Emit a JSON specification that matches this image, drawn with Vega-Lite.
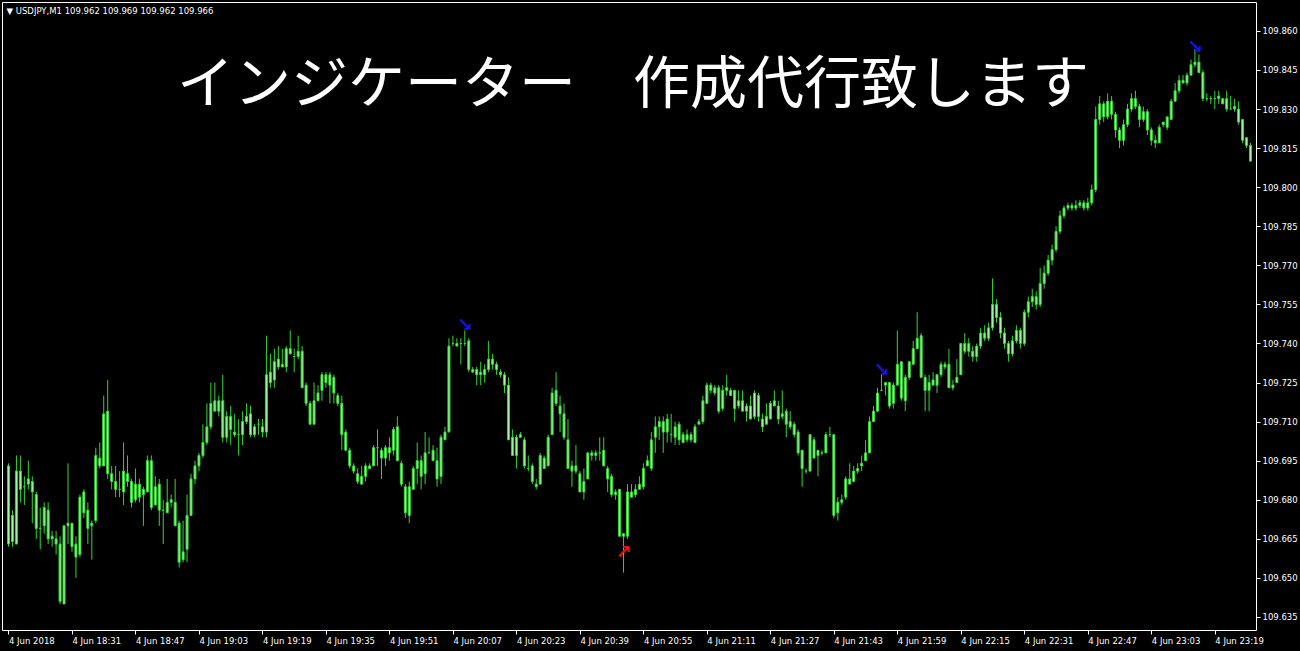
{
  "$schema": "https://vega.github.io/schema/vega-lite/v6.json",
  "width": 1254,
  "height": 628,
  "autosize": {"type": "none"},
  "padding": {"left": 2, "top": 2, "right": 44, "bottom": 21},
  "background": "#000000",
  "config": {"view": {"stroke": "#ffffff", "strokeWidth": 1}, "font": "DejaVu Sans"},
  "title": {
    "text": "インジケーター　作成代行致します",
    "font": "Noto Sans CJK JP",
    "fontSize": 57,
    "fontWeight": "normal",
    "color": "#ffffff",
    "anchor": "middle",
    "frame": "group",
    "orient": "top",
    "offset": 0,
    "baseline": "alphabetic",
    "dx": 4,
    "dy": 158
  },
  "data": {"values": [
    {"t":"2018-06-04T18:15Z","o":109.693,"h":109.694,"l":109.662,"c":109.663},
    {"t":"2018-06-04T18:16Z","o":109.664,"h":109.676,"l":109.662,"c":109.674},
    {"t":"2018-06-04T18:17Z","o":109.663,"h":109.697,"l":109.663,"c":109.691},
    {"t":"2018-06-04T18:18Z","o":109.691,"h":109.697,"l":109.679,"c":109.684},
    {"t":"2018-06-04T18:19Z","o":109.685,"h":109.689,"l":109.678,"c":109.685},
    {"t":"2018-06-04T18:20Z","o":109.686,"h":109.695,"l":109.684,"c":109.688},
    {"t":"2018-06-04T18:21Z","o":109.687,"h":109.689,"l":109.671,"c":109.683},
    {"t":"2018-06-04T18:22Z","o":109.682,"h":109.683,"l":109.665,"c":109.669},
    {"t":"2018-06-04T18:23Z","o":109.669,"h":109.677,"l":109.661,"c":109.669},
    {"t":"2018-06-04T18:24Z","o":109.670,"h":109.679,"l":109.667,"c":109.677},
    {"t":"2018-06-04T18:25Z","o":109.676,"h":109.679,"l":109.663,"c":109.665},
    {"t":"2018-06-04T18:26Z","o":109.666,"h":109.668,"l":109.662,"c":109.665},
    {"t":"2018-06-04T18:27Z","o":109.665,"h":109.668,"l":109.659,"c":109.663},
    {"t":"2018-06-04T18:28Z","o":109.663,"h":109.666,"l":109.640,"c":109.641},
    {"t":"2018-06-04T18:29Z","o":109.640,"h":109.670,"l":109.640,"c":109.670},
    {"t":"2018-06-04T18:30Z","o":109.671,"h":109.694,"l":109.663,"c":109.670},
    {"t":"2018-06-04T18:31Z","o":109.671,"h":109.671,"l":109.660,"c":109.662},
    {"t":"2018-06-04T18:32Z","o":109.663,"h":109.666,"l":109.650,"c":109.658},
    {"t":"2018-06-04T18:33Z","o":109.659,"h":109.682,"l":109.658,"c":109.681},
    {"t":"2018-06-04T18:34Z","o":109.683,"h":109.684,"l":109.673,"c":109.675},
    {"t":"2018-06-04T18:35Z","o":109.676,"h":109.679,"l":109.663,"c":109.669},
    {"t":"2018-06-04T18:36Z","o":109.670,"h":109.672,"l":109.657,"c":109.671},
    {"t":"2018-06-04T18:37Z","o":109.672,"h":109.700,"l":109.671,"c":109.697},
    {"t":"2018-06-04T18:38Z","o":109.696,"h":109.702,"l":109.692,"c":109.693},
    {"t":"2018-06-04T18:39Z","o":109.693,"h":109.720,"l":109.693,"c":109.713},
    {"t":"2018-06-04T18:40Z","o":109.714,"h":109.726,"l":109.688,"c":109.690},
    {"t":"2018-06-04T18:41Z","o":109.690,"h":109.693,"l":109.684,"c":109.687},
    {"t":"2018-06-04T18:42Z","o":109.687,"h":109.693,"l":109.681,"c":109.684},
    {"t":"2018-06-04T18:43Z","o":109.684,"h":109.691,"l":109.681,"c":109.684},
    {"t":"2018-06-04T18:44Z","o":109.683,"h":109.702,"l":109.678,"c":109.691},
    {"t":"2018-06-04T18:45Z","o":109.690,"h":109.697,"l":109.685,"c":109.687},
    {"t":"2018-06-04T18:46Z","o":109.687,"h":109.688,"l":109.677,"c":109.679},
    {"t":"2018-06-04T18:47Z","o":109.680,"h":109.692,"l":109.679,"c":109.686},
    {"t":"2018-06-04T18:48Z","o":109.686,"h":109.688,"l":109.679,"c":109.681},
    {"t":"2018-06-04T18:49Z","o":109.682,"h":109.685,"l":109.670,"c":109.684},
    {"t":"2018-06-04T18:50Z","o":109.683,"h":109.697,"l":109.683,"c":109.695},
    {"t":"2018-06-04T18:51Z","o":109.695,"h":109.697,"l":109.676,"c":109.677},
    {"t":"2018-06-04T18:52Z","o":109.678,"h":109.689,"l":109.678,"c":109.685},
    {"t":"2018-06-04T18:53Z","o":109.686,"h":109.688,"l":109.670,"c":109.676},
    {"t":"2018-06-04T18:54Z","o":109.676,"h":109.680,"l":109.663,"c":109.676},
    {"t":"2018-06-04T18:55Z","o":109.675,"h":109.688,"l":109.675,"c":109.679},
    {"t":"2018-06-04T18:56Z","o":109.680,"h":109.682,"l":109.677,"c":109.679},
    {"t":"2018-06-04T18:57Z","o":109.679,"h":109.688,"l":109.670,"c":109.670},
    {"t":"2018-06-04T18:58Z","o":109.671,"h":109.672,"l":109.654,"c":109.656},
    {"t":"2018-06-04T18:59Z","o":109.657,"h":109.672,"l":109.656,"c":109.660},
    {"t":"2018-06-04T19:00Z","o":109.661,"h":109.682,"l":109.656,"c":109.674},
    {"t":"2018-06-04T19:01Z","o":109.674,"h":109.690,"l":109.674,"c":109.688},
    {"t":"2018-06-04T19:02Z","o":109.688,"h":109.695,"l":109.686,"c":109.693},
    {"t":"2018-06-04T19:03Z","o":109.693,"h":109.698,"l":109.691,"c":109.697},
    {"t":"2018-06-04T19:04Z","o":109.697,"h":109.709,"l":109.696,"c":109.702},
    {"t":"2018-06-04T19:05Z","o":109.702,"h":109.717,"l":109.701,"c":109.708},
    {"t":"2018-06-04T19:06Z","o":109.708,"h":109.725,"l":109.707,"c":109.717},
    {"t":"2018-06-04T19:07Z","o":109.714,"h":109.725,"l":109.714,"c":109.718},
    {"t":"2018-06-04T19:08Z","o":109.718,"h":109.720,"l":109.712,"c":109.714},
    {"t":"2018-06-04T19:09Z","o":109.718,"h":109.728,"l":109.702,"c":109.704},
    {"t":"2018-06-04T19:10Z","o":109.704,"h":109.714,"l":109.702,"c":109.712},
    {"t":"2018-06-04T19:11Z","o":109.712,"h":109.716,"l":109.701,"c":109.707},
    {"t":"2018-06-04T19:12Z","o":109.706,"h":109.713,"l":109.704,"c":109.705},
    {"t":"2018-06-04T19:13Z","o":109.705,"h":109.711,"l":109.697,"c":109.705},
    {"t":"2018-06-04T19:14Z","o":109.705,"h":109.714,"l":109.701,"c":109.710},
    {"t":"2018-06-04T19:15Z","o":109.710,"h":109.717,"l":109.709,"c":109.712},
    {"t":"2018-06-04T19:16Z","o":109.713,"h":109.716,"l":109.704,"c":109.705},
    {"t":"2018-06-04T19:17Z","o":109.705,"h":109.709,"l":109.704,"c":109.708},
    {"t":"2018-06-04T19:18Z","o":109.709,"h":109.711,"l":109.705,"c":109.709},
    {"t":"2018-06-04T19:19Z","o":109.708,"h":109.711,"l":109.704,"c":109.706},
    {"t":"2018-06-04T19:20Z","o":109.706,"h":109.743,"l":109.704,"c":109.728},
    {"t":"2018-06-04T19:21Z","o":109.729,"h":109.736,"l":109.723,"c":109.725},
    {"t":"2018-06-04T19:22Z","o":109.726,"h":109.738,"l":109.723,"c":109.733},
    {"t":"2018-06-04T19:23Z","o":109.734,"h":109.739,"l":109.730,"c":109.731},
    {"t":"2018-06-04T19:24Z","o":109.731,"h":109.738,"l":109.731,"c":109.732},
    {"t":"2018-06-04T19:25Z","o":109.731,"h":109.739,"l":109.729,"c":109.738},
    {"t":"2018-06-04T19:26Z","o":109.738,"h":109.745,"l":109.736,"c":109.736},
    {"t":"2018-06-04T19:27Z","o":109.735,"h":109.738,"l":109.729,"c":109.735},
    {"t":"2018-06-04T19:28Z","o":109.735,"h":109.743,"l":109.734,"c":109.737},
    {"t":"2018-06-04T19:29Z","o":109.737,"h":109.739,"l":109.723,"c":109.723},
    {"t":"2018-06-04T19:30Z","o":109.724,"h":109.725,"l":109.716,"c":109.717},
    {"t":"2018-06-04T19:31Z","o":109.717,"h":109.718,"l":109.709,"c":109.709},
    {"t":"2018-06-04T19:32Z","o":109.709,"h":109.725,"l":109.709,"c":109.718},
    {"t":"2018-06-04T19:33Z","o":109.718,"h":109.724,"l":109.718,"c":109.721},
    {"t":"2018-06-04T19:34Z","o":109.722,"h":109.729,"l":109.718,"c":109.728},
    {"t":"2018-06-04T19:35Z","o":109.728,"h":109.729,"l":109.723,"c":109.725},
    {"t":"2018-06-04T19:36Z","o":109.728,"h":109.729,"l":109.717,"c":109.724},
    {"t":"2018-06-04T19:37Z","o":109.727,"h":109.728,"l":109.717,"c":109.721},
    {"t":"2018-06-04T19:38Z","o":109.720,"h":109.721,"l":109.716,"c":109.717},
    {"t":"2018-06-04T19:39Z","o":109.717,"h":109.720,"l":109.699,"c":109.705},
    {"t":"2018-06-04T19:40Z","o":109.706,"h":109.707,"l":109.699,"c":109.699},
    {"t":"2018-06-04T19:41Z","o":109.699,"h":109.700,"l":109.692,"c":109.693},
    {"t":"2018-06-04T19:42Z","o":109.693,"h":109.694,"l":109.690,"c":109.691},
    {"t":"2018-06-04T19:43Z","o":109.690,"h":109.692,"l":109.686,"c":109.687},
    {"t":"2018-06-04T19:44Z","o":109.686,"h":109.693,"l":109.686,"c":109.689},
    {"t":"2018-06-04T19:45Z","o":109.689,"h":109.694,"l":109.687,"c":109.693},
    {"t":"2018-06-04T19:46Z","o":109.692,"h":109.694,"l":109.692,"c":109.693},
    {"t":"2018-06-04T19:47Z","o":109.693,"h":109.701,"l":109.693,"c":109.700},
    {"t":"2018-06-04T19:48Z","o":109.700,"h":109.707,"l":109.693,"c":109.700},
    {"t":"2018-06-04T19:49Z","o":109.699,"h":109.700,"l":109.688,"c":109.696},
    {"t":"2018-06-04T19:50Z","o":109.696,"h":109.701,"l":109.693,"c":109.700},
    {"t":"2018-06-04T19:51Z","o":109.700,"h":109.704,"l":109.695,"c":109.698},
    {"t":"2018-06-04T19:52Z","o":109.699,"h":109.708,"l":109.697,"c":109.707},
    {"t":"2018-06-04T19:53Z","o":109.708,"h":109.712,"l":109.695,"c":109.695},
    {"t":"2018-06-04T19:54Z","o":109.694,"h":109.695,"l":109.685,"c":109.686},
    {"t":"2018-06-04T19:55Z","o":109.685,"h":109.686,"l":109.673,"c":109.675},
    {"t":"2018-06-04T19:56Z","o":109.674,"h":109.687,"l":109.671,"c":109.685},
    {"t":"2018-06-04T19:57Z","o":109.684,"h":109.693,"l":109.684,"c":109.692},
    {"t":"2018-06-04T19:58Z","o":109.692,"h":109.702,"l":109.686,"c":109.695},
    {"t":"2018-06-04T19:59Z","o":109.695,"h":109.697,"l":109.684,"c":109.689},
    {"t":"2018-06-04T20:00Z","o":109.690,"h":109.706,"l":109.686,"c":109.698},
    {"t":"2018-06-04T20:01Z","o":109.698,"h":109.704,"l":109.698,"c":109.698},
    {"t":"2018-06-04T20:02Z","o":109.699,"h":109.701,"l":109.695,"c":109.695},
    {"t":"2018-06-04T20:03Z","o":109.695,"h":109.700,"l":109.685,"c":109.688},
    {"t":"2018-06-04T20:04Z","o":109.689,"h":109.705,"l":109.686,"c":109.704},
    {"t":"2018-06-04T20:05Z","o":109.703,"h":109.708,"l":109.703,"c":109.706},
    {"t":"2018-06-04T20:06Z","o":109.706,"h":109.742,"l":109.706,"c":109.739},
    {"t":"2018-06-04T20:07Z","o":109.740,"h":109.743,"l":109.739,"c":109.740},
    {"t":"2018-06-04T20:08Z","o":109.739,"h":109.742,"l":109.739,"c":109.740},
    {"t":"2018-06-04T20:09Z","o":109.740,"h":109.742,"l":109.732,"c":109.740},
    {"t":"2018-06-04T20:10Z","o":109.740,"h":109.745,"l":109.739,"c":109.740},
    {"t":"2018-06-04T20:11Z","o":109.741,"h":109.742,"l":109.729,"c":109.730},
    {"t":"2018-06-04T20:12Z","o":109.730,"h":109.731,"l":109.729,"c":109.729},
    {"t":"2018-06-04T20:13Z","o":109.730,"h":109.731,"l":109.724,"c":109.728},
    {"t":"2018-06-04T20:14Z","o":109.728,"h":109.733,"l":109.724,"c":109.729},
    {"t":"2018-06-04T20:15Z","o":109.728,"h":109.732,"l":109.725,"c":109.730},
    {"t":"2018-06-04T20:16Z","o":109.730,"h":109.741,"l":109.729,"c":109.734},
    {"t":"2018-06-04T20:17Z","o":109.734,"h":109.736,"l":109.730,"c":109.732},
    {"t":"2018-06-04T20:18Z","o":109.732,"h":109.733,"l":109.728,"c":109.730},
    {"t":"2018-06-04T20:19Z","o":109.729,"h":109.730,"l":109.727,"c":109.728},
    {"t":"2018-06-04T20:20Z","o":109.728,"h":109.729,"l":109.721,"c":109.724},
    {"t":"2018-06-04T20:21Z","o":109.724,"h":109.727,"l":109.703,"c":109.703},
    {"t":"2018-06-04T20:22Z","o":109.704,"h":109.707,"l":109.697,"c":109.697},
    {"t":"2018-06-04T20:23Z","o":109.697,"h":109.705,"l":109.692,"c":109.704},
    {"t":"2018-06-04T20:24Z","o":109.704,"h":109.706,"l":109.704,"c":109.705},
    {"t":"2018-06-04T20:25Z","o":109.703,"h":109.704,"l":109.692,"c":109.693},
    {"t":"2018-06-04T20:26Z","o":109.692,"h":109.697,"l":109.691,"c":109.692},
    {"t":"2018-06-04T20:27Z","o":109.693,"h":109.694,"l":109.686,"c":109.687},
    {"t":"2018-06-04T20:28Z","o":109.686,"h":109.688,"l":109.684,"c":109.685},
    {"t":"2018-06-04T20:29Z","o":109.686,"h":109.698,"l":109.686,"c":109.697},
    {"t":"2018-06-04T20:30Z","o":109.696,"h":109.697,"l":109.692,"c":109.692},
    {"t":"2018-06-04T20:31Z","o":109.693,"h":109.705,"l":109.693,"c":109.704},
    {"t":"2018-06-04T20:32Z","o":109.705,"h":109.723,"l":109.705,"c":109.721},
    {"t":"2018-06-04T20:33Z","o":109.722,"h":109.729,"l":109.716,"c":109.717},
    {"t":"2018-06-04T20:34Z","o":109.716,"h":109.720,"l":109.706,"c":109.713},
    {"t":"2018-06-04T20:35Z","o":109.713,"h":109.717,"l":109.703,"c":109.704},
    {"t":"2018-06-04T20:36Z","o":109.703,"h":109.711,"l":109.692,"c":109.692},
    {"t":"2018-06-04T20:37Z","o":109.691,"h":109.695,"l":109.685,"c":109.693},
    {"t":"2018-06-04T20:38Z","o":109.693,"h":109.701,"l":109.690,"c":109.691},
    {"t":"2018-06-04T20:39Z","o":109.690,"h":109.691,"l":109.683,"c":109.683},
    {"t":"2018-06-04T20:40Z","o":109.683,"h":109.692,"l":109.680,"c":109.687},
    {"t":"2018-06-04T20:41Z","o":109.688,"h":109.698,"l":109.688,"c":109.698},
    {"t":"2018-06-04T20:42Z","o":109.698,"h":109.699,"l":109.695,"c":109.697},
    {"t":"2018-06-04T20:43Z","o":109.697,"h":109.699,"l":109.695,"c":109.698},
    {"t":"2018-06-04T20:44Z","o":109.698,"h":109.704,"l":109.695,"c":109.698},
    {"t":"2018-06-04T20:45Z","o":109.699,"h":109.704,"l":109.693,"c":109.693},
    {"t":"2018-06-04T20:46Z","o":109.692,"h":109.693,"l":109.683,"c":109.688},
    {"t":"2018-06-04T20:47Z","o":109.689,"h":109.690,"l":109.681,"c":109.682},
    {"t":"2018-06-04T20:48Z","o":109.682,"h":109.684,"l":109.680,"c":109.683},
    {"t":"2018-06-04T20:49Z","o":109.684,"h":109.684,"l":109.666,"c":109.666},
    {"t":"2018-06-04T20:50Z","o":109.666,"h":109.667,"l":109.652,"c":109.667},
    {"t":"2018-06-04T20:51Z","o":109.666,"h":109.686,"l":109.665,"c":109.683},
    {"t":"2018-06-04T20:52Z","o":109.683,"h":109.686,"l":109.681,"c":109.681},
    {"t":"2018-06-04T20:53Z","o":109.682,"h":109.686,"l":109.681,"c":109.684},
    {"t":"2018-06-04T20:54Z","o":109.684,"h":109.689,"l":109.684,"c":109.686},
    {"t":"2018-06-04T20:55Z","o":109.685,"h":109.694,"l":109.684,"c":109.692},
    {"t":"2018-06-04T20:56Z","o":109.693,"h":109.697,"l":109.693,"c":109.695},
    {"t":"2018-06-04T20:57Z","o":109.692,"h":109.706,"l":109.691,"c":109.703},
    {"t":"2018-06-04T20:58Z","o":109.704,"h":109.712,"l":109.698,"c":109.708},
    {"t":"2018-06-04T20:59Z","o":109.708,"h":109.712,"l":109.703,"c":109.710},
    {"t":"2018-06-04T21:00Z","o":109.710,"h":109.712,"l":109.698,"c":109.706},
    {"t":"2018-06-04T21:01Z","o":109.706,"h":109.713,"l":109.702,"c":109.711},
    {"t":"2018-06-04T21:02Z","o":109.705,"h":109.713,"l":109.702,"c":109.705},
    {"t":"2018-06-04T21:03Z","o":109.704,"h":109.710,"l":109.701,"c":109.708},
    {"t":"2018-06-04T21:04Z","o":109.709,"h":109.710,"l":109.701,"c":109.703},
    {"t":"2018-06-04T21:05Z","o":109.702,"h":109.706,"l":109.702,"c":109.705},
    {"t":"2018-06-04T21:06Z","o":109.705,"h":109.707,"l":109.702,"c":109.703},
    {"t":"2018-06-04T21:07Z","o":109.703,"h":109.706,"l":109.702,"c":109.705},
    {"t":"2018-06-04T21:08Z","o":109.702,"h":109.709,"l":109.702,"c":109.708},
    {"t":"2018-06-04T21:09Z","o":109.709,"h":109.711,"l":109.709,"c":109.710},
    {"t":"2018-06-04T21:10Z","o":109.710,"h":109.720,"l":109.709,"c":109.718},
    {"t":"2018-06-04T21:11Z","o":109.717,"h":109.725,"l":109.717,"c":109.724},
    {"t":"2018-06-04T21:12Z","o":109.724,"h":109.725,"l":109.721,"c":109.722},
    {"t":"2018-06-04T21:13Z","o":109.721,"h":109.724,"l":109.720,"c":109.723},
    {"t":"2018-06-04T21:14Z","o":109.723,"h":109.724,"l":109.713,"c":109.714},
    {"t":"2018-06-04T21:15Z","o":109.715,"h":109.724,"l":109.714,"c":109.722},
    {"t":"2018-06-04T21:16Z","o":109.722,"h":109.728,"l":109.720,"c":109.723},
    {"t":"2018-06-04T21:17Z","o":109.722,"h":109.723,"l":109.720,"c":109.720},
    {"t":"2018-06-04T21:18Z","o":109.722,"h":109.722,"l":109.710,"c":109.715},
    {"t":"2018-06-04T21:19Z","o":109.716,"h":109.722,"l":109.715,"c":109.718},
    {"t":"2018-06-04T21:20Z","o":109.718,"h":109.722,"l":109.714,"c":109.714},
    {"t":"2018-06-04T21:21Z","o":109.714,"h":109.717,"l":109.710,"c":109.716},
    {"t":"2018-06-04T21:22Z","o":109.716,"h":109.720,"l":109.711,"c":109.711},
    {"t":"2018-06-04T21:23Z","o":109.712,"h":109.722,"l":109.711,"c":109.721},
    {"t":"2018-06-04T21:24Z","o":109.720,"h":109.721,"l":109.710,"c":109.712},
    {"t":"2018-06-04T21:25Z","o":109.711,"h":109.713,"l":109.706,"c":109.708},
    {"t":"2018-06-04T21:26Z","o":109.709,"h":109.717,"l":109.709,"c":109.712},
    {"t":"2018-06-04T21:27Z","o":109.711,"h":109.718,"l":109.711,"c":109.717},
    {"t":"2018-06-04T21:28Z","o":109.718,"h":109.722,"l":109.716,"c":109.716},
    {"t":"2018-06-04T21:29Z","o":109.716,"h":109.718,"l":109.709,"c":109.711},
    {"t":"2018-06-04T21:30Z","o":109.712,"h":109.722,"l":109.711,"c":109.713},
    {"t":"2018-06-04T21:31Z","o":109.714,"h":109.715,"l":109.704,"c":109.709},
    {"t":"2018-06-04T21:32Z","o":109.710,"h":109.714,"l":109.707,"c":109.708},
    {"t":"2018-06-04T21:33Z","o":109.709,"h":109.710,"l":109.704,"c":109.705},
    {"t":"2018-06-04T21:34Z","o":109.706,"h":109.707,"l":109.697,"c":109.698},
    {"t":"2018-06-04T21:35Z","o":109.699,"h":109.699,"l":109.685,"c":109.692},
    {"t":"2018-06-04T21:36Z","o":109.691,"h":109.692,"l":109.690,"c":109.691},
    {"t":"2018-06-04T21:37Z","o":109.691,"h":109.705,"l":109.691,"c":109.705},
    {"t":"2018-06-04T21:38Z","o":109.703,"h":109.704,"l":109.696,"c":109.696},
    {"t":"2018-06-04T21:39Z","o":109.697,"h":109.699,"l":109.689,"c":109.699},
    {"t":"2018-06-04T21:40Z","o":109.698,"h":109.699,"l":109.697,"c":109.698},
    {"t":"2018-06-04T21:41Z","o":109.698,"h":109.706,"l":109.698,"c":109.705},
    {"t":"2018-06-04T21:42Z","o":109.705,"h":109.708,"l":109.704,"c":109.705},
    {"t":"2018-06-04T21:43Z","o":109.705,"h":109.705,"l":109.673,"c":109.674},
    {"t":"2018-06-04T21:44Z","o":109.675,"h":109.681,"l":109.672,"c":109.679},
    {"t":"2018-06-04T21:45Z","o":109.679,"h":109.682,"l":109.678,"c":109.680},
    {"t":"2018-06-04T21:46Z","o":109.681,"h":109.689,"l":109.680,"c":109.688},
    {"t":"2018-06-04T21:47Z","o":109.688,"h":109.694,"l":109.686,"c":109.686},
    {"t":"2018-06-04T21:48Z","o":109.687,"h":109.693,"l":109.687,"c":109.691},
    {"t":"2018-06-04T21:49Z","o":109.691,"h":109.694,"l":109.690,"c":109.692},
    {"t":"2018-06-04T21:50Z","o":109.693,"h":109.697,"l":109.691,"c":109.694},
    {"t":"2018-06-04T21:51Z","o":109.695,"h":109.703,"l":109.695,"c":109.698},
    {"t":"2018-06-04T21:52Z","o":109.698,"h":109.712,"l":109.698,"c":109.710},
    {"t":"2018-06-04T21:53Z","o":109.710,"h":109.716,"l":109.710,"c":109.714},
    {"t":"2018-06-04T21:54Z","o":109.714,"h":109.723,"l":109.714,"c":109.721},
    {"t":"2018-06-04T21:55Z","o":109.722,"h":109.728,"l":109.722,"c":109.722},
    {"t":"2018-06-04T21:56Z","o":109.724,"h":109.725,"l":109.720,"c":109.725},
    {"t":"2018-06-04T21:57Z","o":109.725,"h":109.725,"l":109.715,"c":109.716},
    {"t":"2018-06-04T21:58Z","o":109.717,"h":109.725,"l":109.715,"c":109.724},
    {"t":"2018-06-04T21:59Z","o":109.724,"h":109.745,"l":109.724,"c":109.732},
    {"t":"2018-06-04T22:00Z","o":109.733,"h":109.733,"l":109.718,"c":109.719},
    {"t":"2018-06-04T22:01Z","o":109.718,"h":109.728,"l":109.714,"c":109.727},
    {"t":"2018-06-04T22:02Z","o":109.727,"h":109.733,"l":109.726,"c":109.733},
    {"t":"2018-06-04T22:03Z","o":109.732,"h":109.741,"l":109.732,"c":109.738},
    {"t":"2018-06-04T22:04Z","o":109.738,"h":109.752,"l":109.738,"c":109.742},
    {"t":"2018-06-04T22:05Z","o":109.743,"h":109.744,"l":109.727,"c":109.727},
    {"t":"2018-06-04T22:06Z","o":109.727,"h":109.728,"l":109.714,"c":109.722},
    {"t":"2018-06-04T22:07Z","o":109.722,"h":109.728,"l":109.714,"c":109.725},
    {"t":"2018-06-04T22:08Z","o":109.724,"h":109.729,"l":109.724,"c":109.726},
    {"t":"2018-06-04T22:09Z","o":109.724,"h":109.728,"l":109.721,"c":109.728},
    {"t":"2018-06-04T22:10Z","o":109.728,"h":109.733,"l":109.727,"c":109.732},
    {"t":"2018-06-04T22:11Z","o":109.732,"h":109.733,"l":109.730,"c":109.731},
    {"t":"2018-06-04T22:12Z","o":109.732,"h":109.738,"l":109.723,"c":109.723},
    {"t":"2018-06-04T22:13Z","o":109.723,"h":109.726,"l":109.722,"c":109.724},
    {"t":"2018-06-04T22:14Z","o":109.725,"h":109.734,"l":109.725,"c":109.727},
    {"t":"2018-06-04T22:15Z","o":109.728,"h":109.740,"l":109.728,"c":109.740},
    {"t":"2018-06-04T22:16Z","o":109.740,"h":109.744,"l":109.736,"c":109.737},
    {"t":"2018-06-04T22:17Z","o":109.740,"h":109.742,"l":109.735,"c":109.737},
    {"t":"2018-06-04T22:18Z","o":109.737,"h":109.739,"l":109.733,"c":109.735},
    {"t":"2018-06-04T22:19Z","o":109.735,"h":109.740,"l":109.733,"c":109.739},
    {"t":"2018-06-04T22:20Z","o":109.739,"h":109.746,"l":109.738,"c":109.744},
    {"t":"2018-06-04T22:21Z","o":109.744,"h":109.747,"l":109.741,"c":109.742},
    {"t":"2018-06-04T22:22Z","o":109.742,"h":109.748,"l":109.741,"c":109.746},
    {"t":"2018-06-04T22:23Z","o":109.746,"h":109.765,"l":109.745,"c":109.755},
    {"t":"2018-06-04T22:24Z","o":109.755,"h":109.757,"l":109.748,"c":109.750},
    {"t":"2018-06-04T22:25Z","o":109.750,"h":109.752,"l":109.742,"c":109.744},
    {"t":"2018-06-04T22:26Z","o":109.744,"h":109.746,"l":109.738,"c":109.740},
    {"t":"2018-06-04T22:27Z","o":109.740,"h":109.741,"l":109.733,"c":109.736},
    {"t":"2018-06-04T22:28Z","o":109.736,"h":109.743,"l":109.735,"c":109.741},
    {"t":"2018-06-04T22:29Z","o":109.741,"h":109.747,"l":109.740,"c":109.745},
    {"t":"2018-06-04T22:30Z","o":109.745,"h":109.746,"l":109.738,"c":109.740},
    {"t":"2018-06-04T22:31Z","o":109.740,"h":109.753,"l":109.739,"c":109.752},
    {"t":"2018-06-04T22:32Z","o":109.752,"h":109.758,"l":109.750,"c":109.756},
    {"t":"2018-06-04T22:33Z","o":109.756,"h":109.761,"l":109.754,"c":109.758},
    {"t":"2018-06-04T22:34Z","o":109.758,"h":109.760,"l":109.753,"c":109.755},
    {"t":"2018-06-04T22:35Z","o":109.755,"h":109.769,"l":109.754,"c":109.763},
    {"t":"2018-06-04T22:36Z","o":109.763,"h":109.770,"l":109.761,"c":109.767},
    {"t":"2018-06-04T22:37Z","o":109.767,"h":109.774,"l":109.766,"c":109.772},
    {"t":"2018-06-04T22:38Z","o":109.772,"h":109.778,"l":109.770,"c":109.776},
    {"t":"2018-06-04T22:39Z","o":109.776,"h":109.785,"l":109.775,"c":109.783},
    {"t":"2018-06-04T22:40Z","o":109.783,"h":109.791,"l":109.782,"c":109.789},
    {"t":"2018-06-04T22:41Z","o":109.789,"h":109.793,"l":109.788,"c":109.792},
    {"t":"2018-06-04T22:42Z","o":109.792,"h":109.794,"l":109.791,"c":109.793},
    {"t":"2018-06-04T22:43Z","o":109.793,"h":109.794,"l":109.791,"c":109.792},
    {"t":"2018-06-04T22:44Z","o":109.792,"h":109.795,"l":109.791,"c":109.793},
    {"t":"2018-06-04T22:45Z","o":109.793,"h":109.795,"l":109.792,"c":109.794},
    {"t":"2018-06-04T22:46Z","o":109.794,"h":109.795,"l":109.791,"c":109.792},
    {"t":"2018-06-04T22:47Z","o":109.792,"h":109.796,"l":109.791,"c":109.794},
    {"t":"2018-06-04T22:48Z","o":109.794,"h":109.801,"l":109.793,"c":109.799},
    {"t":"2018-06-04T22:49Z","o":109.799,"h":109.831,"l":109.798,"c":109.826},
    {"t":"2018-06-04T22:50Z","o":109.826,"h":109.835,"l":109.824,"c":109.832},
    {"t":"2018-06-04T22:51Z","o":109.832,"h":109.833,"l":109.825,"c":109.827},
    {"t":"2018-06-04T22:52Z","o":109.827,"h":109.836,"l":109.826,"c":109.833},
    {"t":"2018-06-04T22:53Z","o":109.833,"h":109.835,"l":109.826,"c":109.828},
    {"t":"2018-06-04T22:54Z","o":109.828,"h":109.829,"l":109.819,"c":109.822},
    {"t":"2018-06-04T22:55Z","o":109.822,"h":109.823,"l":109.815,"c":109.818},
    {"t":"2018-06-04T22:56Z","o":109.818,"h":109.826,"l":109.816,"c":109.824},
    {"t":"2018-06-04T22:57Z","o":109.824,"h":109.832,"l":109.823,"c":109.830},
    {"t":"2018-06-04T22:58Z","o":109.830,"h":109.836,"l":109.829,"c":109.834},
    {"t":"2018-06-04T22:59Z","o":109.834,"h":109.837,"l":109.830,"c":109.831},
    {"t":"2018-06-04T23:00Z","o":109.831,"h":109.832,"l":109.823,"c":109.826},
    {"t":"2018-06-04T23:01Z","o":109.826,"h":109.831,"l":109.825,"c":109.829},
    {"t":"2018-06-04T23:02Z","o":109.829,"h":109.830,"l":109.820,"c":109.822},
    {"t":"2018-06-04T23:03Z","o":109.822,"h":109.823,"l":109.816,"c":109.818},
    {"t":"2018-06-04T23:04Z","o":109.818,"h":109.820,"l":109.815,"c":109.817},
    {"t":"2018-06-04T23:05Z","o":109.817,"h":109.824,"l":109.817,"c":109.823},
    {"t":"2018-06-04T23:06Z","o":109.824,"h":109.825,"l":109.823,"c":109.825},
    {"t":"2018-06-04T23:07Z","o":109.823,"h":109.827,"l":109.822,"c":109.827},
    {"t":"2018-06-04T23:08Z","o":109.826,"h":109.834,"l":109.826,"c":109.833},
    {"t":"2018-06-04T23:09Z","o":109.833,"h":109.840,"l":109.833,"c":109.837},
    {"t":"2018-06-04T23:10Z","o":109.837,"h":109.843,"l":109.836,"c":109.841},
    {"t":"2018-06-04T23:11Z","o":109.841,"h":109.843,"l":109.840,"c":109.840},
    {"t":"2018-06-04T23:12Z","o":109.840,"h":109.844,"l":109.839,"c":109.843},
    {"t":"2018-06-04T23:13Z","o":109.843,"h":109.849,"l":109.843,"c":109.847},
    {"t":"2018-06-04T23:14Z","o":109.847,"h":109.853,"l":109.846,"c":109.848},
    {"t":"2018-06-04T23:15Z","o":109.848,"h":109.851,"l":109.844,"c":109.844},
    {"t":"2018-06-04T23:16Z","o":109.844,"h":109.845,"l":109.833,"c":109.834},
    {"t":"2018-06-04T23:17Z","o":109.834,"h":109.836,"l":109.833,"c":109.834},
    {"t":"2018-06-04T23:18Z","o":109.834,"h":109.835,"l":109.832,"c":109.834},
    {"t":"2018-06-04T23:19Z","o":109.834,"h":109.837,"l":109.830,"c":109.834},
    {"t":"2018-06-04T23:20Z","o":109.834,"h":109.837,"l":109.832,"c":109.835},
    {"t":"2018-06-04T23:21Z","o":109.834,"h":109.834,"l":109.832,"c":109.832},
    {"t":"2018-06-04T23:22Z","o":109.834,"h":109.837,"l":109.829,"c":109.830},
    {"t":"2018-06-04T23:23Z","o":109.830,"h":109.835,"l":109.830,"c":109.830},
    {"t":"2018-06-04T23:24Z","o":109.831,"h":109.834,"l":109.829,"c":109.830},
    {"t":"2018-06-04T23:25Z","o":109.830,"h":109.833,"l":109.824,"c":109.825},
    {"t":"2018-06-04T23:26Z","o":109.826,"h":109.826,"l":109.817,"c":109.818},
    {"t":"2018-06-04T23:27Z","o":109.819,"h":109.819,"l":109.815,"c":109.816},
    {"t":"2018-06-04T23:28Z","o":109.816,"h":109.817,"l":109.810,"c":109.810}
  ]},
  "datasets": {
    "signals": [
      {"t":"2018-06-04T20:10Z","p":109.747,"s":"sell"},
      {"t":"2018-06-04T20:50Z","p":109.660,"s":"buy"},
      {"t":"2018-06-04T21:55Z","p":109.730,"s":"sell"},
      {"t":"2018-06-04T23:14Z","p":109.854,"s":"sell"}
    ]
  },
  "resolve": {"axis": {"y": "independent"}},
  "encoding": {
    "x": {
      "field": "t",
      "type": "temporal",
      "scale": {
        "type": "utc",
        "domain": [
          {"year": 2018, "month": 6, "date": 4, "hours": 18, "minutes": 14, "seconds": 37, "milliseconds": 500, "utc": true},
          {"year": 2018, "month": 6, "date": 4, "hours": 23, "minutes": 28, "seconds": 7, "milliseconds": 500, "utc": true}
        ]
      },
      "axis": {
        "values": [
          {"year": 2018, "month": 6, "date": 4, "hours": 18, "minutes": 15, "utc": true},
          {"year": 2018, "month": 6, "date": 4, "hours": 18, "minutes": 31, "utc": true},
          {"year": 2018, "month": 6, "date": 4, "hours": 18, "minutes": 47, "utc": true},
          {"year": 2018, "month": 6, "date": 4, "hours": 19, "minutes": 3, "utc": true},
          {"year": 2018, "month": 6, "date": 4, "hours": 19, "minutes": 19, "utc": true},
          {"year": 2018, "month": 6, "date": 4, "hours": 19, "minutes": 35, "utc": true},
          {"year": 2018, "month": 6, "date": 4, "hours": 19, "minutes": 51, "utc": true},
          {"year": 2018, "month": 6, "date": 4, "hours": 20, "minutes": 7, "utc": true},
          {"year": 2018, "month": 6, "date": 4, "hours": 20, "minutes": 23, "utc": true},
          {"year": 2018, "month": 6, "date": 4, "hours": 20, "minutes": 39, "utc": true},
          {"year": 2018, "month": 6, "date": 4, "hours": 20, "minutes": 55, "utc": true},
          {"year": 2018, "month": 6, "date": 4, "hours": 21, "minutes": 11, "utc": true},
          {"year": 2018, "month": 6, "date": 4, "hours": 21, "minutes": 27, "utc": true},
          {"year": 2018, "month": 6, "date": 4, "hours": 21, "minutes": 43, "utc": true},
          {"year": 2018, "month": 6, "date": 4, "hours": 21, "minutes": 59, "utc": true},
          {"year": 2018, "month": 6, "date": 4, "hours": 22, "minutes": 15, "utc": true},
          {"year": 2018, "month": 6, "date": 4, "hours": 22, "minutes": 31, "utc": true},
          {"year": 2018, "month": 6, "date": 4, "hours": 22, "minutes": 47, "utc": true},
          {"year": 2018, "month": 6, "date": 4, "hours": 23, "minutes": 3, "utc": true},
          {"year": 2018, "month": 6, "date": 4, "hours": 23, "minutes": 19, "utc": true}
        ],
        "labelExpr": "datum.index === 0 ? '4 Jun 2018' : utcFormat(datum.value, '%-d %b %H:%M')",
        "title": null,
        "grid": false,
        "domain": false,
        "tickSize": 4,
        "tickColor": "#ffffff",
        "labelColor": "#ffffff",
        "labelFont": "DejaVu Sans",
        "labelFontSize": 8.5,
        "labelAlign": "left",
        "labelBaseline": "top",
        "labelPadding": 2,
        "labelOverlap": false,
        "labelFlush": false
      }
    }
  },
  "layer": [
    {
      "mark": {"type": "rule", "color": "#33d633", "strokeWidth": 1},
      "encoding": {
        "y": {
          "field": "l",
          "type": "quantitative",
          "scale": {"domain": [109.630, 109.8711], "nice": false, "zero": false},
          "axis": {
            "orient": "right",
            "values": [109.635, 109.65, 109.665, 109.68, 109.695, 109.71, 109.725, 109.74, 109.755, 109.77, 109.785, 109.8, 109.815, 109.83, 109.845, 109.86],
            "format": ".3f",
            "grid": false,
            "domain": false,
            "tickSize": 4,
            "tickColor": "#ffffff",
            "labelColor": "#ffffff",
            "labelFont": "DejaVu Sans",
            "labelFontSize": 8.5,
            "labelPadding": 2,
            "labelBaseline": "middle",
            "title": "▼ USDJPY,M1  109.962 109.969 109.962 109.966",
            "titleAngle": 0,
            "titleX": -1250,
            "titleY": 8,
            "titleAlign": "left",
            "titleBaseline": "middle",
            "titleColor": "#ffffff",
            "titleFont": "DejaVu Sans",
            "titleFontSize": 8.5,
            "titleFontWeight": "normal"
          }
        },
        "y2": {"field": "h"}
      }
    },
    {
      "mark": {"type": "bar", "size": 2, "fill": "#a6f5a6", "stroke": "#33d633", "strokeWidth": 1},
      "encoding": {
        "y": {"field": "o", "type": "quantitative", "axis": null},
        "y2": {"field": "c"}
      }
    },
    {
      "data": {"name": "signals"},
      "mark": {"type": "text", "font": "DejaVu Sans", "fontSize": 19, "fontWeight": "bold", "align": "center", "baseline": "middle"},
      "encoding": {
        "y": {"field": "p", "type": "quantitative", "axis": null},
        "text": {"condition": {"test": "datum.s === 'buy'", "value": "↗"}, "value": "↘"},
        "color": {"field": "s", "type": "nominal", "scale": {"domain": ["buy", "sell"], "range": ["#ee1111", "#1414e6"]}, "legend": null}
      }
    }
  ]
}
